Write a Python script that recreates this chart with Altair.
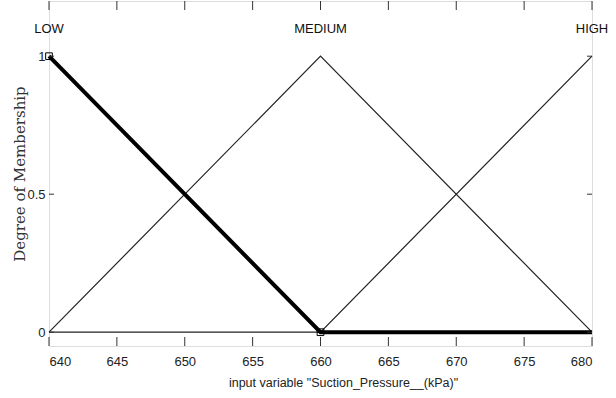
import altair as alt
import pandas as pd

# membership functions (x breakpoints, y values)
mf_names = ["LOW", "MEDIUM", "HIGH"]
low_x = [640, 660, 680]
low_y = [1, 0, 0]
medium_x = [640, 660, 680]
medium_y = [0, 1, 0]
high_x = [640, 660, 680]
high_y = [0, 0, 1]
mf_peaks = [640, 660, 680]
label_level = [1.1, 1.1, 1.1]
marker_x = [640, 660]
marker_y = [1, 0]
x_ticks = [640, 645, 650, 655, 660, 665, 670, 675, 680]
y_ticks = [0, 0.5, 1]

W, H = 543, 345
FONT = "Liberation Sans"

rows = []
for name, xs, ys in [("LOW", low_x, low_y), ("MEDIUM", medium_x, medium_y), ("HIGH", high_x, high_y)]:
    for i, (a, b) in enumerate(zip(xs, ys)):
        rows.append({"mf": name, "x": a, "y": b, "o": i})
df = pd.DataFrame(rows)

xs = alt.Scale(domain=[640, 680], nice=False, zero=False)
ys = alt.Scale(domain=[-0.05, 1.2], nice=False, zero=False)

xaxis = alt.Axis(values=x_ticks, ticks=False, domain=False, grid=False, labelFont=FONT,
                 labelFontSize=13, labelColor="#222", labelPadding=9,
                 title='input variable "Suction_Pressure__(kPa)"', titleFont=FONT,
                 titleFontSize=12.5, titleFontWeight="normal", titleColor="#222", titlePadding=8,
                 titleX=294)
yaxis = alt.Axis(values=y_ticks, format="~g", ticks=False, domain=False, grid=False, labelFont=FONT,
                 labelFontSize=13, labelColor="#222", labelPadding=4,
                 title="Degree of Membership", titleFont="DejaVu Serif", titleFontSize=15,
                 titleFontWeight="normal", titleColor="#333", titlePadding=-1)

thin = alt.Chart(df[df.mf != "LOW"]).mark_line(color="#222", strokeWidth=1.2).encode(
    x=alt.X("x:Q", scale=xs, axis=xaxis),
    y=alt.Y("y:Q", scale=ys, axis=yaxis),
    detail="mf:N", order="o:Q")

thick = alt.Chart(df[df.mf == "LOW"]).mark_line(color="#000", strokeWidth=4).encode(
    x=alt.X("x:Q", scale=xs), y=alt.Y("y:Q", scale=ys), order="o:Q")

markers = alt.Chart(pd.DataFrame({"x": marker_x, "y": marker_y})).mark_point(
    shape="square", size=45, filled=False, color="#000", strokeWidth=1, opacity=1).encode(
    x=alt.X("x:Q", scale=xs), y=alt.Y("y:Q", scale=ys))

labels = alt.Chart(pd.DataFrame({"name": mf_names, "x": mf_peaks, "y": label_level})).mark_text(
    font=FONT, fontSize=13, color="#111", align="center", baseline="middle").encode(
    x=alt.X("x:Q", scale=xs), y=alt.Y("y:Q", scale=ys), text="name:N")

tdf = pd.DataFrame({"t": x_ticks})
tick_b = alt.Chart(tdf).mark_rule(color="#333", strokeWidth=1).encode(
    x=alt.X("t:Q", scale=xs), y=alt.value(H), y2=alt.value(H - 9))
tick_t = alt.Chart(tdf).mark_rule(color="#333", strokeWidth=1).encode(
    x=alt.X("t:Q", scale=xs), y=alt.value(0), y2=alt.value(9))
ydf = pd.DataFrame({"t": y_ticks})
tick_l = alt.Chart(ydf).mark_rule(color="#333", strokeWidth=1).encode(
    y=alt.Y("t:Q", scale=ys), x=alt.value(0), x2=alt.value(5))
tick_r = alt.Chart(ydf).mark_rule(color="#333", strokeWidth=1).encode(
    y=alt.Y("t:Q", scale=ys), x=alt.value(W), x2=alt.value(W - 5))

chart = alt.layer(thin, thick, markers, labels, tick_b, tick_t, tick_l, tick_r).properties(
    width=W, height=H,
    autosize=alt.AutoSizeParams(type="none"),
    padding={"left": 49, "top": 1, "right": 24, "bottom": 52},
).configure_view(stroke="#666", strokeWidth=1.5).configure(background="white")

chart.save("out.html", embed_options={"renderer": "svg", "actions": False})
